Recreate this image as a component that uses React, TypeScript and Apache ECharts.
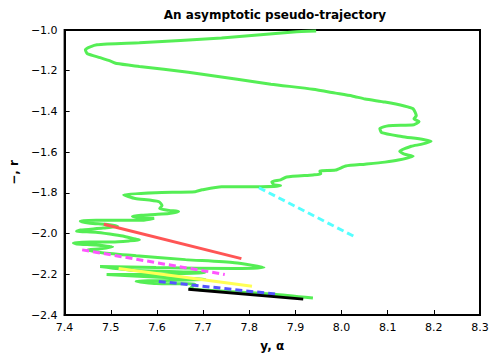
import React, { useEffect, useRef } from "react";
import * as echarts from "echarts";

const titleText = "An asymptotic pseudo-trajectory";
const xName = "y, α";
const yName = "−, r";

// main green trajectory [x, y]
const greenX = [7.945, 7.896, 7.740, 7.562, 7.470, 7.445, 7.449, 7.477, 7.502, 7.513, 7.562, 7.668, 7.774, 7.847, 7.938, 7.987, 8.023, 8.051, 8.094, 8.136, 8.155, 8.162, 8.157, 8.168, 8.157, 8.102, 8.083, 8.087, 8.130, 8.194, 8.172, 8.151, 8.126, 8.136, 8.155, 8.123, 8.094, 8.051, 8.009, 7.987, 7.953, 7.955, 7.938, 7.881, 7.868, 7.849, 7.853, 7.868, 7.826, 7.740, 7.698, 7.683, 7.598, 7.528, 7.538, 7.553, 7.604, 7.611, 7.606, 7.626, 7.647, 7.626, 7.596, 7.568, 7.547, 7.568, 7.594, 7.568, 7.526, 7.468, 7.434, 7.455, 7.489, 7.515, 7.483, 7.434, 7.426, 7.468, 7.498, 7.526, 7.553, 7.562, 7.540, 7.504, 7.455, 7.419, 7.426, 7.468, 7.504, 7.477, 7.449, 7.481, 7.555, 7.662, 7.768, 7.832, 7.768, 7.598, 7.477, 7.555, 7.704, 7.598, 7.491, 7.604, 7.704, 7.555, 7.598, 7.683, 7.672, 7.747, 7.853, 7.938];
const greenY = [-1.005, -1.010, -1.039, -1.063, -1.073, -1.097, -1.116, -1.136, -1.155, -1.165, -1.179, -1.208, -1.242, -1.266, -1.291, -1.310, -1.324, -1.339, -1.354, -1.373, -1.387, -1.421, -1.436, -1.450, -1.465, -1.470, -1.484, -1.504, -1.523, -1.547, -1.562, -1.571, -1.596, -1.610, -1.620, -1.639, -1.649, -1.659, -1.668, -1.688, -1.693, -1.707, -1.712, -1.722, -1.736, -1.746, -1.760, -1.765, -1.770, -1.770, -1.785, -1.794, -1.799, -1.809, -1.818, -1.828, -1.843, -1.862, -1.877, -1.886, -1.891, -1.901, -1.906, -1.910, -1.915, -1.925, -1.925, -1.935, -1.935, -1.935, -1.939, -1.949, -1.954, -1.964, -1.973, -1.983, -1.988, -1.993, -2.002, -2.012, -2.027, -2.031, -2.036, -2.041, -2.041, -2.046, -2.051, -2.056, -2.065, -2.075, -2.080, -2.094, -2.109, -2.128, -2.143, -2.167, -2.172, -2.167, -2.162, -2.182, -2.191, -2.201, -2.201, -2.215, -2.225, -2.235, -2.245, -2.249, -2.269, -2.283, -2.298, -2.317];

// straight segments [x0, y0, x1, y1]
const cyanSeg = [7.821, -1.775, 8.030, -2.017];
const redSeg = [7.485, -1.954, 7.783, -2.123];
const magentaSeg = [7.438, -2.080, 7.747, -2.201];
const yellowSeg = [7.517, -2.172, 7.806, -2.259];
const blueSeg = [7.604, -2.235, 7.860, -2.298];
const blackSeg = [7.668, -2.274, 7.917, -2.322];

const xMin = 7.4, xMax = 8.3, xStep = 0.1;
const yMin = -2.4, yMax = -1.0, yStep = 0.2;

const FONT = "DejaVu Sans";

function seg(s: number[], color: string, dashed: boolean) {
  return {
    type: "line",
    data: [[s[0], s[1]], [s[2], s[3]]],
    showSymbol: false,
    symbol: "none",
    lineStyle: { color, width: 3, type: dashed ? [7, 4] : "solid", cap: "butt" },
    z: 3,
  };
}

export default function App() {
  const ref = useRef<HTMLDivElement>(null);
  useEffect(() => {
    if (!ref.current) return;
    const chart = echarts.init(ref.current, undefined, { renderer: "svg" });
    const fmt = (v: number) => v.toFixed(1).replace("-", "\u2212");
    chart.setOption({
      animation: false,
      backgroundColor: "#fff",
      title: {
        text: titleText,
        left: 270,
        textAlign: "center",
        top: 4,
        textStyle: { fontFamily: FONT, fontSize: 12, fontWeight: "bold", color: "#000" },
      },
      grid: {
        left: 57, right: 12, top: 30, bottom: 39,
        show: true, borderColor: "#000", borderWidth: 2, backgroundColor: "transparent",
      },
      xAxis: {
        type: "value", min: xMin, max: xMax, interval: xStep,
        name: xName, nameLocation: "middle", nameGap: 25,
        nameTextStyle: { fontFamily: FONT, fontSize: 12, fontWeight: "bold", color: "#000" },
        axisLine: { show: true, lineStyle: { color: "#000", width: 2 } },
        axisTick: { show: true, inside: true, length: 5, lineStyle: { color: "#000", width: 1 } },
        axisLabel: { formatter: fmt, fontFamily: FONT, fontSize: 11, color: "#000", margin: 7 },
        splitLine: { show: false },
      },
      yAxis: {
        type: "value", min: yMin, max: yMax, interval: yStep,
        name: yName, nameLocation: "middle", nameGap: 42, nameRotate: 90,
        nameTextStyle: { fontFamily: FONT, fontSize: 12, fontWeight: "bold", color: "#000" },
        axisLine: { show: true, lineStyle: { color: "#000", width: 2 } },
        axisTick: { show: true, inside: true, length: 5, lineStyle: { color: "#000", width: 1 } },
        axisLabel: { formatter: fmt, fontFamily: FONT, fontSize: 11, color: "#000", margin: 7 },
        splitLine: { show: false },
      },
      series: [
        {
          type: "line",
          data: greenX.map((x, i) => [x, greenY[i]]),
          showSymbol: false,
          symbol: "none",
          smooth: 0.2,
          lineStyle: { color: "#55ee55", width: 3 },
          z: 2,
        },
        seg(cyanSeg, "#55ffff", true),
        seg(redSeg, "#ff5555", false),
        seg(magentaSeg, "#ff55ff", true),
        seg(yellowSeg, "#ffff55", false),
        seg(blueSeg, "#5555ff", true),
        seg(blackSeg, "#000000", false),
      ],
    });
    return () => chart.dispose();
  }, []);
  return <div ref={ref} style={{ position: "absolute", left: 0, top: 0, width: 492, height: 357 }} />;
}
